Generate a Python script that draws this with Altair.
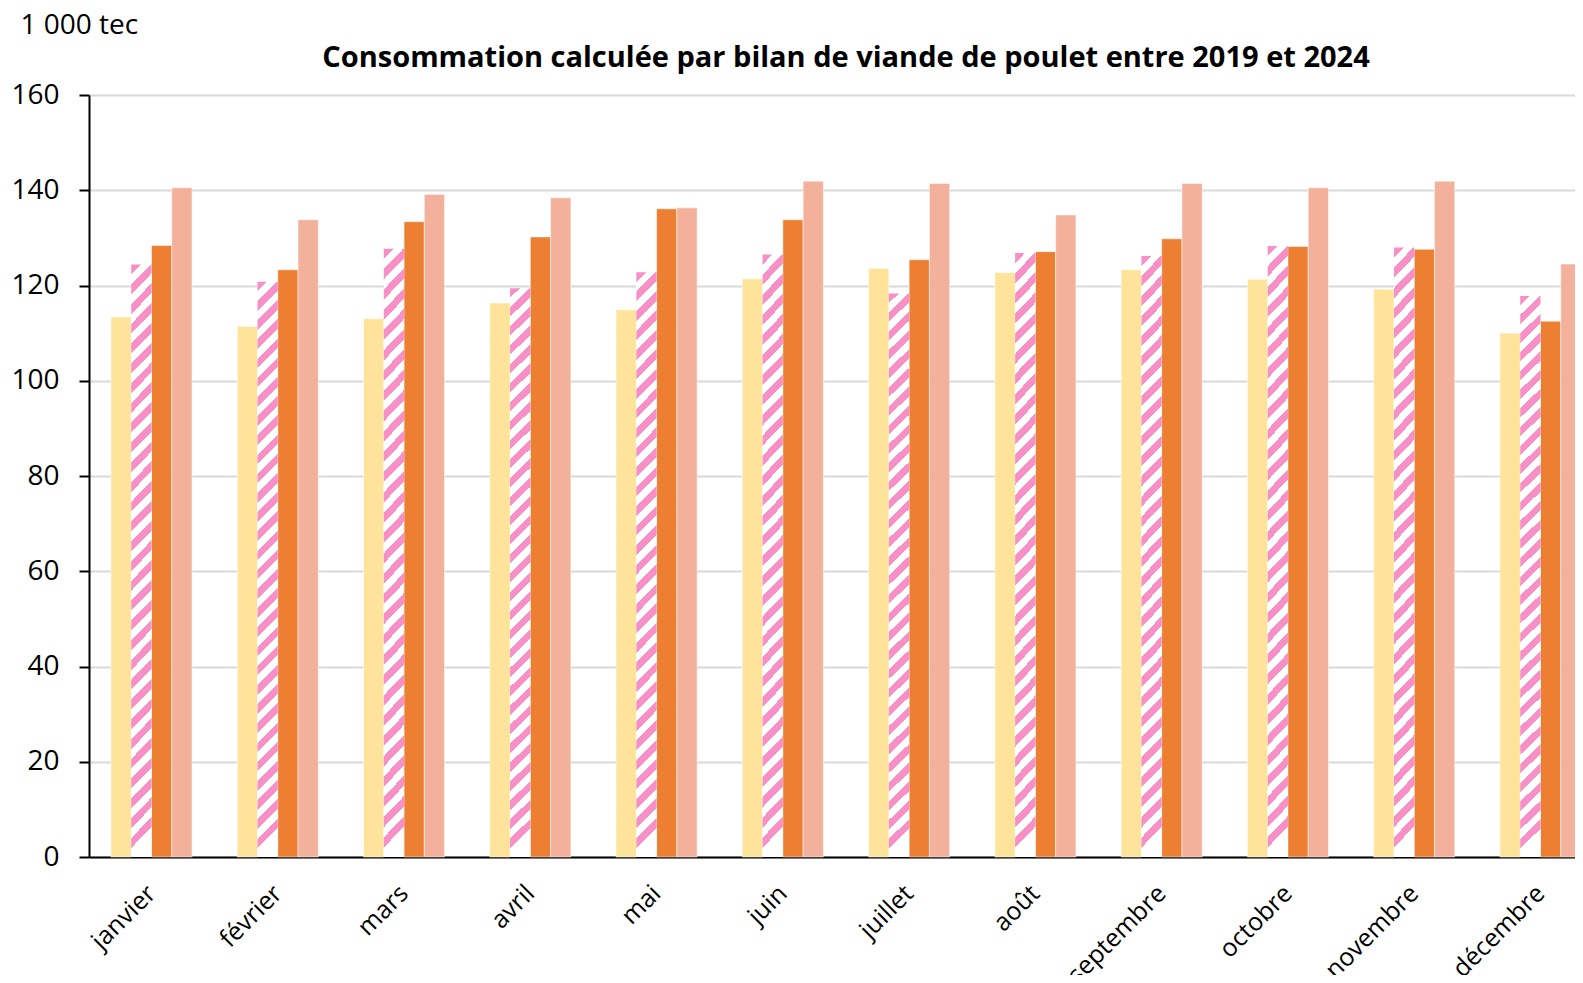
import altair as alt
import pandas as pd

months = ["janvier", "février", "mars", "avril", "mai", "juin", "juillet",
          "août", "septembre", "octobre", "novembre", "décembre"]
series = ["2021", "2022", "2023", "2024"]
v2021 = [113.4, 111.4, 113.0, 116.3, 114.9, 121.4, 123.6, 122.7, 123.3, 121.3, 119.2, 110.0]
v2022 = [124.4, 120.8, 127.7, 119.4, 122.8, 126.5, 118.3, 126.8, 126.2, 128.3, 128.0, 117.8]
v2023 = [128.4, 123.3, 133.4, 130.2, 136.1, 133.8, 125.4, 127.1, 129.8, 128.2, 127.6, 112.5]
v2024 = [140.5, 133.8, 139.1, 138.4, 136.3, 141.9, 141.4, 134.8, 141.4, 140.5, 141.9, 124.5]

rows = []
for s, vals in zip(series, [v2021, v2022, v2023, v2024]):
    for m, v in zip(months, vals):
        rows.append({"mois": m, "serie": s, "valeur": v})
df = pd.DataFrame(rows)

FONT = "Open Sans"
colors = ["#FEE39A", "#F88FC6", "#ED7F32", "#F3B09A"]

# diagonal hatch as a striped linear gradient
stops = []
n = 30
pink = "#F88FC6"
for i in range(n):
    a = i / n
    b = (i + 0.5) / n
    c = (i + 1) / n
    stops += [alt.GradientStop(color=pink, offset=a),
              alt.GradientStop(color=pink, offset=b),
              alt.GradientStop(color="#FFFFFF", offset=b),
              alt.GradientStop(color="#FFFFFF", offset=c)]
hatch = alt.LinearGradient(gradient="linear", stops=stops, x1=0, y1=0, x2=0.035, y2=1)

x = alt.X("mois:N", sort=months, title=None,
          scale=alt.Scale(paddingInner=0.358, paddingOuter=0.174),
          axis=alt.Axis(labelAngle=-45, labelAlign="right", labelBaseline="middle",
                        labelPadding=32, ticks=False, domainColor="black",
                        domainWidth=2, labelFontSize=25, labelFont=FONT,
                        labelColor="black"))
xo = alt.XOffset("serie:N", scale=alt.Scale(domain=series, paddingInner=0, paddingOuter=0))
y = alt.Y("valeur:Q", scale=alt.Scale(domain=[0, 160]),
          axis=alt.Axis(values=[0, 20, 40, 60, 80, 100, 120, 140, 160],
                        title="1 000 tec", titleAngle=0, titleAlign="left",
                        titleBaseline="alphabetic", titleX=-69, titleY=-62,
                        titleFontSize=28, titleFontWeight="normal", titleFont=FONT,
                        titleColor="black",
                        labelFontSize=28, labelFont=FONT, labelColor="black",
                        labelPadding=20, tickSize=10, tickColor="black", tickWidth=2,
                        domainColor="black", domainWidth=2,
                        gridColor="#D9D9D9", gridWidth=2))

base = alt.Chart(df)
solid = base.transform_filter(alt.datum.serie != "2022").mark_bar(
    stroke="white", strokeWidth=1, strokeOpacity=0.5).encode(
    x=x, xOffset=xo, y=y,
    color=alt.Color("serie:N", scale=alt.Scale(domain=series, range=colors), legend=None))
hatched = base.transform_filter(alt.datum.serie == "2022").mark_bar(
    color=hatch).encode(x=x, xOffset=xo, y=y)

chart = alt.layer(solid, hatched).properties(
    width=1514, height=762,
    title=alt.TitleParams("Consommation calculée par bilan de viande de poulet entre 2019 et 2024",
                          fontSize=29, font=FONT, fontWeight="bold", color="black",
                          anchor="middle", baseline="alphabetic", offset=-85),
    autosize=alt.AutoSizeParams(type="none"),
    padding={"left": 81, "top": 87, "right": -28, "bottom": 118},
).configure_view(stroke=None)

chart.save("out.html", embed_options={"renderer": "svg", "actions": False})
